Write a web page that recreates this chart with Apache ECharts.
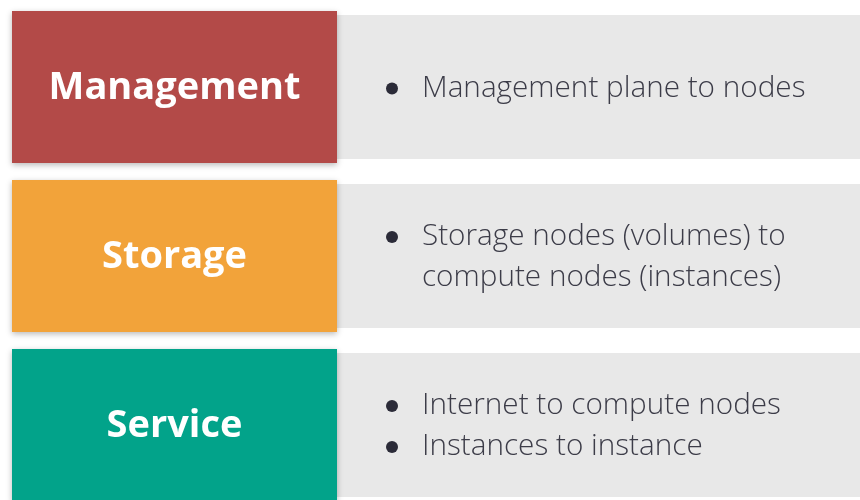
<!DOCTYPE html>
<html><head><meta charset="utf-8">
<script src="https://cdn.jsdelivr.net/npm/echarts@6/dist/echarts.min.js"></script>
<style>html,body{margin:0;padding:0;background:#fff}#c{width:860px;height:500px}</style>
</head><body><div id="c"></div>
<script>
// ---- data ----
const categories = ['Management', 'Storage', 'Service'];
const bulletItems = [
  ['Management plane to nodes'],
  ['Storage nodes (volumes) to\ncompute nodes (instances)'],
  ['Internet to compute nodes', 'Instances to instance']
];
const panelColors = ['#B34A48', '#F2A33A', '#02A38A'];

// ---- style / layout ----
const PANEL_W = 325, PANEL_H = 152, GRAY_H = 144;
const LINE_H = 41, TEXT_DY = 1.5;
const BULLET_X = 55, TEXT_X = 85; // relative to gray panel left
const grayColor = '#E8E8E8', bodyColor = '#3C3C48', dotColor = '#2B2B38';

const chart = echarts.init(document.getElementById('c'), null, {renderer: 'canvas'});

function renderItem(params, api) {
  const i = api.value(1);
  const cs = params.coordSys;
  const cy = api.coord([0, i])[1];
  const x0 = cs.x;
  const grayX = x0 + PANEL_W;
  const children = [];
  children.push({
    type: 'rect',
    shape: {x: grayX, y: cy - GRAY_H / 2, width: cs.x + cs.width - grayX + 10, height: GRAY_H},
    style: {fill: grayColor}
  });
  children.push({
    type: 'rect',
    shape: {x: x0, y: cy - PANEL_H / 2, width: PANEL_W, height: PANEL_H},
    style: {fill: panelColors[i], shadowBlur: 6, shadowOffsetY: 2, shadowColor: 'rgba(0,0,0,0.28)'}
  });
  children.push({
    type: 'text',
    style: {
      x: x0 + PANEL_W / 2, y: cy + 1, text: categories[i],
      fill: '#fff', font: 'bold 38px "Open Sans"', align: 'center', verticalAlign: 'middle'
    }
  });
  const lines = [];
  bulletItems[i].forEach(item => {
    item.split('\n').forEach((t, k) => lines.push({t, bullet: k === 0}));
  });
  const n = lines.length;
  lines.forEach((ln, j) => {
    const y = cy + (j - (n - 1) / 2) * LINE_H + TEXT_DY;
    if (ln.bullet) {
      children.push({type: 'circle', shape: {cx: grayX + BULLET_X, cy: y, r: 6}, style: {fill: dotColor}});
    }
    children.push({
      type: 'text',
      style: {
        x: grayX + TEXT_X, y: y, text: ln.t, fill: bodyColor,
        font: '300 29.7px "Open Sans"', align: 'left', verticalAlign: 'middle'
      }
    });
  });
  return {type: 'group', children};
}

chart.setOption({
  animation: false,
  grid: {left: 12, right: 0, top: 2.5, height: 507, outerBoundsMode: 'none', containLabel: false},
  xAxis: {type: 'value', min: 0, max: 1, show: false},
  yAxis: {type: 'category', data: categories, inverse: true, show: false},
  series: [{
    type: 'custom',
    renderItem,
    data: categories.map((c, i) => [0, i]),
    clip: false
  }]
});
</script></body></html>
